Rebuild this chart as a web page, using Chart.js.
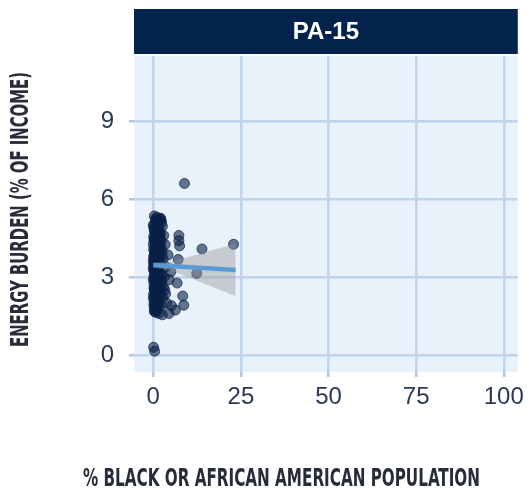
<!DOCTYPE html>
<html>
<head>
<meta charset="utf-8">
<script src="https://cdn.jsdelivr.net/npm/chart.js@4.4.1/dist/chart.umd.min.js"></script>
<style>
  html, body { margin: 0; padding: 0; background: #fff; }
  #wrap { width: 530px; height: 491px; position: relative; }
</style>
</head>
<body>
<div id="wrap"><canvas id="burdenChart"></canvas></div>
<script>
// facet / axis text
const facetLabel = 'PA-15';
const xTitle = '% BLACK OR AFRICAN AMERICAN POPULATION';
const yTitle = 'ENERGY BURDEN (% OF INCOME)';
const xTicks = [0, 25, 50, 75, 100];
const yTicks = [0, 3, 6, 9];

// tracts: % black population vs energy burden
const pctBlack = [
  0.3, 1.0, 1.8, 0.6, 2.2, 1.3, 0.2, 0.9, 1.7, 2.6, 0.4, 1.1, 2.0, 0.1, 0.8, 1.5, 3.0,
  0.2, 0.7, 1.4, 2.3, 0.5, 1.0, 1.9, 3.4, 0.1, 0.6, 1.2, 2.5, 0.3, 0.9, 1.6, 4.2, 0.2, 0.7, 1.3, 2.8, 7.1,
  0.4, 1.0, 1.8, 0.1, 0.6, 1.5, 3.6, 0.3, 0.9, 2.1, 0.5, 1.2, 0.2, 0.8, 1.7, 3.1, 0.4, 1.1, 2.4, 5.0, 6.8, 4.5,
  0.2, 0.7, 1.4, 0.3, 1.0, 2.0, 0.5, 1.3, 3.3, 0.1, 0.8, 1.8, 0.4, 1.1, 2.7, 0.6, 1.5, 0.2, 0.9, 2.3, 3.8,
  0.5, 1.2, 0.3, 1.0, 2.6, 4.5, 6.3, 8.4, 8.7, 5.2,
  8.9, 0.1, 0.4, 7.3, 7.3, 7.5, 13.9, 22.9, 12.4, 2.1,
  0.0, 0.5, 0.0, 0.4, 0.0, 0.5, 0.0, 0.4, 0.0, 0.6, 0.0, 0.3, 0.2, 1.6, 1.4, 1.9, 1.5, 2.0, 2.2, 2.4,
  0.6, 1.4, 0.2, 1.1, 0.7, 1.9, 0.3, 1.2, 0.8, 2.0, 0.4, 1.5, 0.9, 2.5, 0.1, 1.3, 0.6, 1.8, 0.2, 1.0,
  0.7, 1.6, 0.3, 1.2, 2.2, 0.5, 1.4, 0.9, 1.7, 0.2, 1.1, 2.9, 0.6, 1.3, 0.4, 2.1, 0.8, 1.5, 0.3, 3.5
];
const energyBurden = [
  5.35, 5.30, 5.25, 5.15, 5.20, 5.05, 4.95, 4.90, 4.85, 4.95, 4.75, 4.70, 4.65, 4.55, 4.50, 4.55, 4.60,
  4.40, 4.35, 4.30, 4.40, 4.20, 4.15, 4.10, 4.25, 4.05, 4.00, 3.95, 3.90, 3.85, 3.80, 3.75, 3.85, 3.70, 3.65, 3.60, 3.70, 3.68,
  3.55, 3.50, 3.45, 3.40, 3.35, 3.30, 3.40, 3.25, 3.20, 3.15, 3.10, 3.05, 3.00, 2.95, 2.90, 3.00, 2.85, 2.80, 2.85, 3.20, 2.77, 2.90,
  2.75, 2.70, 2.65, 2.60, 2.55, 2.50, 2.45, 2.40, 2.50, 2.35, 2.30, 2.25, 2.20, 2.15, 2.20, 2.10, 2.05, 2.00, 1.95, 1.90, 2.00,
  1.85, 1.80, 1.75, 1.70, 1.55, 1.60, 1.73, 2.27, 1.92, 1.90,
  6.60, 0.30, 0.15, 4.60, 4.40, 4.20, 4.08, 4.26, 3.14, 5.26,
  5.00, 4.60, 4.25, 3.95, 3.60, 3.20, 2.90, 2.50, 2.20, 1.65, 3.30, 4.80, 1.90, 3.90, 2.90, 4.50, 1.60, 3.60, 2.70, 5.10,
  5.22, 5.12, 4.88, 4.82, 4.62, 4.72, 4.45, 4.48, 4.28, 4.22, 4.12, 3.98, 3.88, 4.05, 3.78, 3.68, 3.58, 3.52, 3.48, 3.38,
  3.28, 3.22, 3.12, 3.02, 3.05, 2.92, 2.82, 2.72, 2.62, 2.58, 2.48, 2.62, 2.38, 2.28, 2.12, 2.32, 2.02, 1.88, 1.68, 2.35
];

// linear fit and its confidence band
const fitX = [0, 23.5];
const fitY = [3.46, 3.27];
const bandX = [0, 5, 10, 15, 20, 23.5];
const bandUpper = [3.55, 3.59, 3.77, 3.96, 4.15, 4.28];
const bandLower = [3.37, 3.25, 2.99, 2.72, 2.45, 2.26];

const toPts = (xs, ys) => xs.map((x, i) => ({ x: x, y: ys[i] }));

// panel background + facet strip
const panelPlugin = {
  id: 'panel',
  beforeDraw(chart) {
    const { ctx, chartArea: a } = chart;
    ctx.save();
    ctx.fillStyle = '#e9f1fa';
    ctx.fillRect(a.left, a.top, a.right - a.left, a.bottom - a.top);
    ctx.fillStyle = '#03234d';
    ctx.fillRect(a.left, 9, a.right - a.left, a.top - 11);
    ctx.fillStyle = '#ffffff';
    ctx.font = 'bold 24px "Liberation Sans", Arial, sans-serif';
    ctx.textAlign = 'center';
    ctx.textBaseline = 'middle';
    ctx.fillText(facetLabel, (a.left + a.right) / 2, 9 + (a.top - 11) / 2 + 1);
    ctx.restore();
  }
};

// condensed axis titles
const titlePlugin = {
  id: 'axisTitles',
  afterDraw(chart) {
    const ctx = chart.ctx;
    ctx.save();
    ctx.fillStyle = '#262c38';
    ctx.font = 'bold 25px "DejaVu Sans Condensed", "Liberation Sans Narrow", "Liberation Sans", sans-serif';
    ctx.textAlign = 'center';
    ctx.textBaseline = 'middle';
    let w = ctx.measureText(xTitle).width;
    ctx.save();
    ctx.translate(281.5, 479);
    ctx.scale(397 / w, 1);
    ctx.fillText(xTitle, 0, 0);
    ctx.restore();
    w = ctx.measureText(yTitle).width;
    ctx.save();
    ctx.translate(21.5, 209.5);
    ctx.rotate(-Math.PI / 2);
    ctx.scale(275 / w, 1);
    ctx.fillText(yTitle, 0, 0);
    ctx.restore();
    ctx.restore();
  }
};

const ctx = document.getElementById('burdenChart').getContext('2d');
const burdenChart = new Chart(ctx, {
  type: 'scatter',
  data: {
    datasets: [
      {
        type: 'line',
        data: toPts(fitX, fitY),
        borderColor: '#5b9bd5',
        borderWidth: 4.5,
        pointRadius: 0,
        fill: false
      },
      {
        type: 'line',
        data: toPts(bandX, bandUpper),
        borderWidth: 0,
        borderColor: 'rgba(0,0,0,0)',
        backgroundColor: 'rgba(150,150,150,0.42)',
        pointRadius: 0,
        fill: '+1'
      },
      {
        type: 'line',
        data: toPts(bandX, bandLower),
        borderWidth: 0,
        borderColor: 'rgba(0,0,0,0)',
        pointRadius: 0,
        fill: false
      },
      {
        data: toPts(pctBlack, energyBurden),
        backgroundColor: 'rgba(8,32,70,0.6)',
        borderColor: 'rgba(8,32,70,0.7)',
        borderWidth: 1,
        pointRadius: 5
      }
    ]
  },
  options: {
    responsive: true,
    maintainAspectRatio: false,
    animation: false,
    layout: { padding: { top: 56, right: 4, left: 0, bottom: 0 } },
    plugins: {
      legend: { display: false },
      tooltip: { enabled: false }
    },
    scales: {
      x: {
        type: 'linear',
        min: -5.5,
        max: 104,
        afterFit: (s) => { s.height = 119; },
        afterBuildTicks: (s) => { s.ticks = xTicks.map(v => ({ value: v })); },
        grid: { color: '#bdd4ec', lineWidth: 2.5, tickLength: 5, tickColor: '#b4c6da' },
        border: { display: false },
        ticks: { padding: 6, color: '#2a3a56', font: { size: 24, family: '"Liberation Sans", Arial, sans-serif' } }
      },
      y: {
        type: 'linear',
        min: -0.65,
        max: 11.5,
        afterFit: (s) => { s.width = 134; },
        afterBuildTicks: (s) => { s.ticks = yTicks.map(v => ({ value: v })); },
        grid: { color: '#bdd4ec', lineWidth: 2.5, tickLength: 5, tickColor: '#b4c6da' },
        border: { display: false },
        ticks: { padding: 15, color: '#2a3a56', font: { size: 24, family: '"Liberation Sans", Arial, sans-serif' } }
      }
    }
  },
  plugins: [panelPlugin, titlePlugin]
});
</script>
</body>
</html>
